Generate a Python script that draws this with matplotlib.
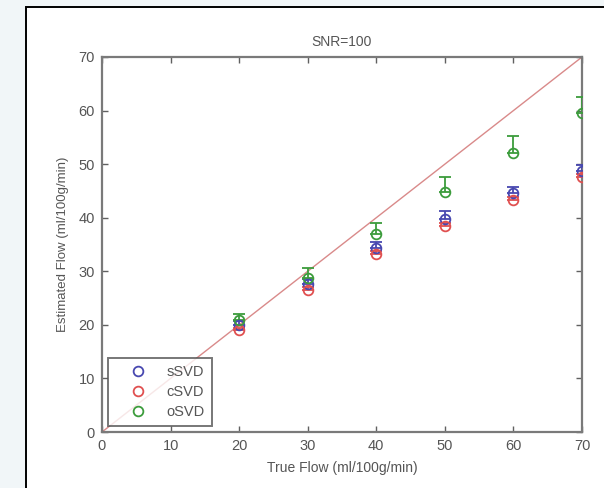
import matplotlib
matplotlib.use("Agg")
import matplotlib.pyplot as plt
from matplotlib.patches import Rectangle
from matplotlib.lines import Line2D

plt.rcParams['font.family'] = ['Liberation Sans', 'DejaVu Sans']

true_flow = [20, 30, 40, 50, 60, 70]
methods = ['sSVD', 'cSVD', 'oSVD']
colors = ['#4848b0', '#e05050', '#3c9c3c']

# mean estimated flow
est_ssvd = [20.0, 27.6, 34.3, 39.8, 44.6, 48.7]
est_csvd = [19.0, 26.5, 33.2, 38.4, 43.3, 47.6]
est_osvd = [20.9, 28.7, 37.0, 44.8, 52.0, 59.5]
# upper error (std) above the mean
err_ssvd = [0.8, 1.0, 1.2, 1.4, 1.2, 1.1]
err_csvd = [0.5, 0.6, 0.6, 0.6, 0.6, 0.6]
err_osvd = [1.1, 1.9, 2.0, 2.8, 3.2, 3.0]

W, H = 604, 488
fig = plt.figure(figsize=(W / 100, H / 100), dpi=100)
fig.patch.set_facecolor('#f1f6f8')

# white panel with black border on the left and top
panel = Rectangle((26 / W, -0.1), 1.2, 1 - 7 / H + 0.1, transform=fig.transFigure,
                  facecolor='white', edgecolor='black', linewidth=1.4, zorder=-10)
fig.patches.append(panel)

ax = fig.add_axes([102 / W, 1 - 432 / H, 480 / W, 375 / H])
ax.set_facecolor('white')

ax.plot([0, 70], [0, 70], color='#d98a8a', linewidth=1.0, zorder=1)

means = [est_ssvd, est_csvd, est_osvd]
errs = [err_ssvd, err_csvd, err_osvd]
handles = []
for name, col, m, e in zip(methods, colors, means, errs):
    ax.errorbar(true_flow, m, yerr=[[0] * len(e), e], fmt='o', mfc='none', mec=col,
                ecolor=col, mew=1.3, ms=7, capsize=4, elinewidth=1.3, zorder=3)
    handles.append(Line2D([], [], linestyle='none', marker='o', mfc='none', mec=col,
                          mew=1.3, ms=7, label=name))

ax.set_xlim(0, 70)
ax.set_ylim(0, 70)
ax.set_xticks(range(0, 71, 10))
ax.set_yticks(range(0, 71, 10))
ax.tick_params(direction='in', length=4, width=1, colors='#606060', labelcolor='#555555',
               labelsize=10.5, top=True, right=True, pad=5)
for s in ax.spines.values():
    s.set_color('#7a7a7a')
    s.set_linewidth(1.6)

ax.set_title('SNR=100', fontsize=10, color='#555555', pad=8)
ax.set_xlabel('True Flow (ml/100g/min)', fontsize=10, color='#555555', labelpad=6)
ax.set_ylabel('Estimated Flow (ml/100g/min)', fontsize=9.5, color='#555555', labelpad=7)

leg = ax.legend(handles=handles, loc='lower left', fontsize=10.5, frameon=True,
                fancybox=False, borderaxespad=0.4, borderpad=0.5, handletextpad=0.3,
                labelspacing=0.4, handlelength=3.2)
leg.get_frame().set_edgecolor('#555555')
leg.get_frame().set_linewidth(1.4)
for t in leg.get_texts():
    t.set_color('#555555')

fig.savefig('out.png', dpi=100, facecolor=fig.get_facecolor())
